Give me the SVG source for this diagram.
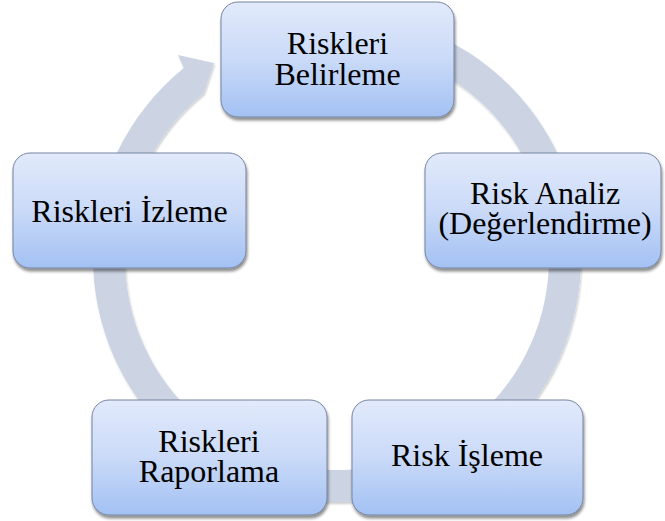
<svg xmlns="http://www.w3.org/2000/svg" width="665" height="521" viewBox="0 0 665 521">
  <defs>
    <linearGradient id="boxGrad" x1="0" y1="0" x2="0" y2="1">
      <stop offset="0" stop-color="#E2EAFB"/>
      <stop offset="0.5" stop-color="#CADAF8"/>
      <stop offset="1" stop-color="#A3C1F3"/>
    </linearGradient>
    <filter id="shadow" x="-10%" y="-10%" width="125%" height="130%">
      <feGaussianBlur in="SourceAlpha" stdDeviation="1.8"/>
      <feOffset dx="1" dy="2.5" result="b"/>
      <feComponentTransfer><feFuncA type="linear" slope="0.45"/></feComponentTransfer>
      <feMerge><feMergeNode/><feMergeNode in="SourceGraphic"/></feMerge>
    </filter>
    <filter id="ringShadow" x="-5%" y="-5%" width="110%" height="110%">
      <feGaussianBlur in="SourceAlpha" stdDeviation="1.2"/>
      <feOffset dx="0.5" dy="1.5"/>
      <feComponentTransfer><feFuncA type="linear" slope="0.2"/></feComponentTransfer>
      <feMerge><feMergeNode/><feMergeNode in="SourceGraphic"/></feMerge>
    </filter>
  </defs>
  <style>
    .box { fill: url(#boxGrad); stroke: #74839E; stroke-width: 1; filter: url(#shadow); }
    .lbl { font-family: 'Liberation Serif', 'Times New Roman', serif; font-size: 32px; fill: #000000; text-anchor: middle; }
    .ring { fill: #CCD4E4; filter: url(#ringShadow); }
  </style>
  <rect width="665" height="521" fill="#FFFFFF"/>
  <g id="connectors">
    <path class="ring" d="M 420.45 28.71 A 244 244 0 1 1 183.8 68.1 L 178 55 L 214 63 L 203.9 93.0 A 212 212 0 1 0 409.51 58.78 Z"/>
  </g>
  <g id="node-belirleme">
    <rect class="box" x="221" y="2" width="233" height="115" rx="17" ry="17"/>
    <text class="lbl" x="337.5" y="53.5">Riskleri<tspan x="337.5" y="85">Belirleme</tspan></text>
  </g>
  <g id="node-analiz">
    <rect class="box" x="425" y="153" width="236" height="115" rx="17" ry="17"/>
    <text class="lbl" x="545" y="203.5">Risk Analiz<tspan x="545" y="234">(Değerlendirme)</tspan></text>
  </g>
  <g id="node-isleme">
    <rect class="box" x="352" y="400" width="231" height="115" rx="17" ry="17"/>
    <text class="lbl" x="467" y="465.5">Risk İşleme</text>
  </g>
  <g id="node-raporlama">
    <rect class="box" x="92" y="400" width="235" height="115" rx="17" ry="17"/>
    <text class="lbl" x="209" y="451.5">Riskleri<tspan x="209" y="482">Raporlama</tspan></text>
  </g>
  <g id="node-izleme">
    <rect class="box" x="13" y="153" width="233" height="115" rx="17" ry="17"/>
    <text class="lbl" x="129.5" y="221.5">Riskleri İzleme</text>
  </g>
</svg>
